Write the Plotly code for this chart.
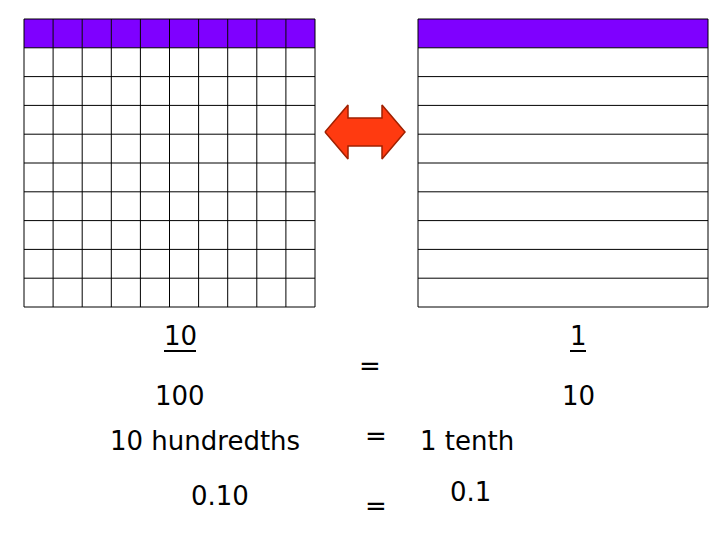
import plotly.graph_objects as go

# grid setup
n_rows = 10
left_cols = 10
right_cols = 1
shaded_rows = [0]          # top row shaded in both grids
purple = "#7F00FF"

left_box = (24, 315, 19, 307)    # x0, x1, y0, y1 (pixels)
right_box = (418, 708, 19, 307)

labels = [
    ("10", 180, 336, True), ("100", 180, 396, False), ("=", 370, 366, False),
    ("1", 578, 336, True), ("10", 578, 396, False),
    ("10 hundredths", 205, 441, False), ("=", 376, 436, False), ("1 tenth", 467, 441, False),
    ("0.10", 220, 496, False), ("=", 376, 506, False), ("0.1", 470, 492, False),
]

fig = go.Figure()
shapes = []


def draw_grid(box, cols):
    x0, x1, y0, y1 = box
    cw = (x1 - x0) / cols
    rh = (y1 - y0) / n_rows
    for r in shaded_rows:
        for c in range(cols):
            shapes.append(dict(type="rect", x0=x0 + c * cw, x1=x0 + (c + 1) * cw,
                               y0=y0 + r * rh, y1=y0 + (r + 1) * rh,
                               fillcolor=purple, line=dict(width=0), layer="below"))
    for c in range(cols + 1):
        shapes.append(dict(type="line", x0=x0 + c * cw, x1=x0 + c * cw, y0=y0, y1=y1,
                           line=dict(color="black", width=1)))
    for r in range(n_rows + 1):
        shapes.append(dict(type="line", x0=x0, x1=x1, y0=y0 + r * rh, y1=y0 + r * rh,
                           line=dict(color="black", width=1)))


draw_grid(left_box, left_cols)
draw_grid(right_box, right_cols)

# double-headed arrow
ax = [325, 348, 348, 382, 382, 405, 382, 382, 348, 348, 325]
ay = [132, 105, 118, 118, 105, 132, 159, 146, 146, 159, 132]
fig.add_trace(go.Scatter(x=ax, y=ay, fill="toself", fillcolor="#FF3A10",
                         line=dict(color="#A02000", width=1.5), mode="lines",
                         hoverinfo="skip", showlegend=False))

for text, x, y, under in labels:
    fig.add_annotation(x=x, y=y, text=text, showarrow=False,
                       font=dict(family="DejaVu Sans", size=26, color="black"))
    if under:
        w = 8 * len(text)
        shapes.append(dict(type="line", x0=x - w, x1=x + w, y0=y + 15, y1=y + 15,
                           line=dict(color="black", width=2)))

# page body adds an 8px offset, so shift the view to compensate
fig.update_layout(
    width=728, height=546, margin=dict(l=0, r=0, t=0, b=0),
    plot_bgcolor="white", paper_bgcolor="white", shapes=shapes,
    xaxis=dict(range=[8, 736], visible=False, fixedrange=True),
    yaxis=dict(range=[554, 8], visible=False, fixedrange=True),
)
fig.write_html("out.html")
